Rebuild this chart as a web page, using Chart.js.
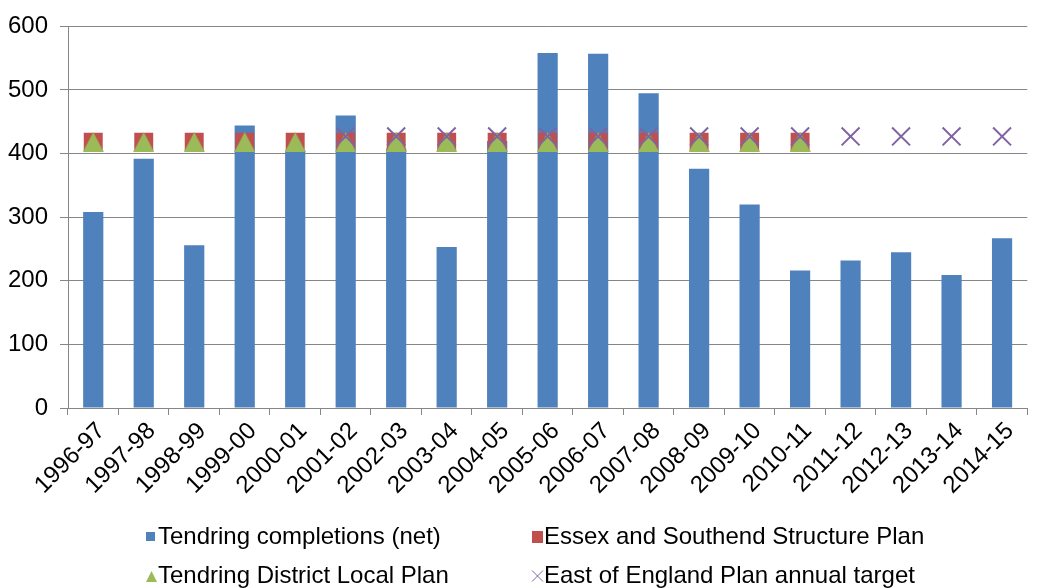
<!DOCTYPE html>
<html>
<head>
<meta charset="utf-8">
<script src="https://cdn.jsdelivr.net/npm/chart.js@4"></script>
<style>
  html, body { margin: 0; padding: 0; background: #fff; }
  #wrap { width: 1042px; height: 588px; }
</style>
</head>
<body>
<div id="wrap"><canvas id="chart" width="1042" height="588"></canvas></div>
<script>
/* housing completions vs plan targets */
const years = ['1996-97', '1997-98', '1998-99', '1999-00', '2000-01', '2001-02', '2002-03',
  '2003-04', '2004-05', '2005-06', '2006-07', '2007-08', '2008-09', '2009-10', '2010-11',
  '2011-12', '2012-13', '2013-14', '2014-15'];
const completions = [308, 392, 256, 444, 405, 460, 408, 253, 420, 558, 557, 495, 376, 320, 216, 232, 245, 209, 267];
const structurePlan = [418, 418, 418, 418, 418, 418, 418, 418, 418, 418, 418, 418, 418, 418, 418, null, null, null, null];
const localPlan = [418, 418, 418, 418, 418, 418, 418, 418, 418, 418, 418, 418, 418, 418, 418, null, null, null, null];
const eastOfEngland = [null, null, null, null, null, 427, 427, 427, 427, 427, 427, 427, 427, 427, 427, 427, 427, 427, 427];
const yMax = 600;
const yStep = 100;

const BLUE = '#4F81BD', RED = '#C0504D', GREEN = '#9BBB59', PURPLE = '#8064A2';
const AXIS_GREY = '#868686';
const FONT = '"Liberation Sans", Arial, sans-serif';
const FONT_SIZE = 24;

Chart.defaults.font.family = FONT;
Chart.defaults.font.size = FONT_SIZE;
Chart.defaults.color = '#000';

// triangle marker centred in its own box (chart.js 'triangle' sits high)
function triangleImage(w, h, color) {
  const c = document.createElement('canvas');
  c.width = w; c.height = h;
  const g = c.getContext('2d');
  g.fillStyle = color;
  g.beginPath();
  g.moveTo(0, h);
  g.lineTo(w / 2, 0);
  g.lineTo(w, h);
  g.closePath();
  g.fill();
  return c;
}

/* two-column legend under the axis labels */
const legendItems = [
  { text: 'Tendring completions (net)', mark: 'bar', x: 146, y: 537 },
  { text: 'Essex and Southend Structure Plan', mark: 'rect', x: 532, y: 537 },
  { text: 'Tendring District Local Plan', mark: 'tri', x: 146, y: 576 },
  { text: 'East of England Plan annual target', mark: 'cross', x: 532, y: 576 }
];

const legendPlugin = {
  id: 'twoColLegend',
  afterDraw(chart) {
    const ctx = chart.ctx;
    ctx.save();
    ctx.font = FONT_SIZE + 'px ' + FONT;
    ctx.textBaseline = 'middle';
    ctx.fillStyle = '#000';
    legendItems.forEach(item => {
      const x = item.x, y = item.y;
      if (item.mark === 'bar') {
        ctx.fillStyle = BLUE;
        ctx.fillRect(x, y - 5, 9, 9);
      } else if (item.mark === 'rect') {
        ctx.fillStyle = RED;
        ctx.fillRect(x, y - 6, 11, 12);
      } else if (item.mark === 'tri') {
        ctx.fillStyle = GREEN;
        ctx.beginPath();
        ctx.moveTo(x, y + 6);
        ctx.lineTo(x + 5.5, y - 5);
        ctx.lineTo(x + 11, y + 6);
        ctx.closePath();
        ctx.fill();
      } else {
        ctx.strokeStyle = PURPLE;
        ctx.lineWidth = 1;
        ctx.beginPath();
        ctx.moveTo(x, y - 5.5);
        ctx.lineTo(x + 11, y + 5.5);
        ctx.moveTo(x + 11, y - 5.5);
        ctx.lineTo(x, y + 5.5);
        ctx.stroke();
      }
      ctx.fillStyle = '#000';
      ctx.fillText(item.text, x + 12, y);
    });
    ctx.restore();
  }
};

new Chart(document.getElementById('chart'), {
  type: 'bar',
  data: {
    labels: years,
    datasets: [
      {
        type: 'bar',
        label: 'Tendring completions (net)',
        data: completions,
        backgroundColor: BLUE,
        barPercentage: 0.4,
        categoryPercentage: 1,
        order: 4
      },
      {
        type: 'line',
        label: 'Essex and Southend Structure Plan',
        data: structurePlan,
        showLine: false,
        pointStyle: 'rect',
        pointRadius: 13.4,
        pointBackgroundColor: RED,
        pointBorderWidth: 0,
        order: 3
      },
      {
        type: 'line',
        label: 'Tendring District Local Plan',
        data: localPlan,
        showLine: false,
        pointStyle: triangleImage(21, 20, GREEN),
        pointRadius: 10,
        order: 2
      },
      {
        type: 'line',
        label: 'East of England Plan annual target',
        data: eastOfEngland,
        showLine: false,
        pointStyle: 'crossRot',
        pointRadius: 12.7,
        pointBorderColor: PURPLE,
        pointBorderWidth: 2,
        order: 1
      }
    ]
  },
  options: {
    responsive: false,
    animation: false,
    layout: { padding: { top: 21, right: 5, left: 0, bottom: 0 } },
    plugins: {
      legend: { display: false },
      tooltip: { enabled: false }
    },
    scales: {
      x: {
        grid: { offset: true, drawOnChartArea: false, tickLength: 7, color: AXIS_GREY },
        border: { color: AXIS_GREY },
        ticks: { minRotation: 45, maxRotation: 45, autoSkip: false, padding: 2, labelOffset: 8 },
        afterFit: scale => { scale.height = 180; }
      },
      y: {
        min: 0,
        max: yMax,
        ticks: { stepSize: yStep, padding: 12 },
        grid: { color: AXIS_GREY, tickLength: 8 },
        border: { color: AXIS_GREY },
        afterFit: scale => { scale.width = 68; }
      }
    }
  },
  plugins: [legendPlugin]
});
</script>
</body>
</html>
